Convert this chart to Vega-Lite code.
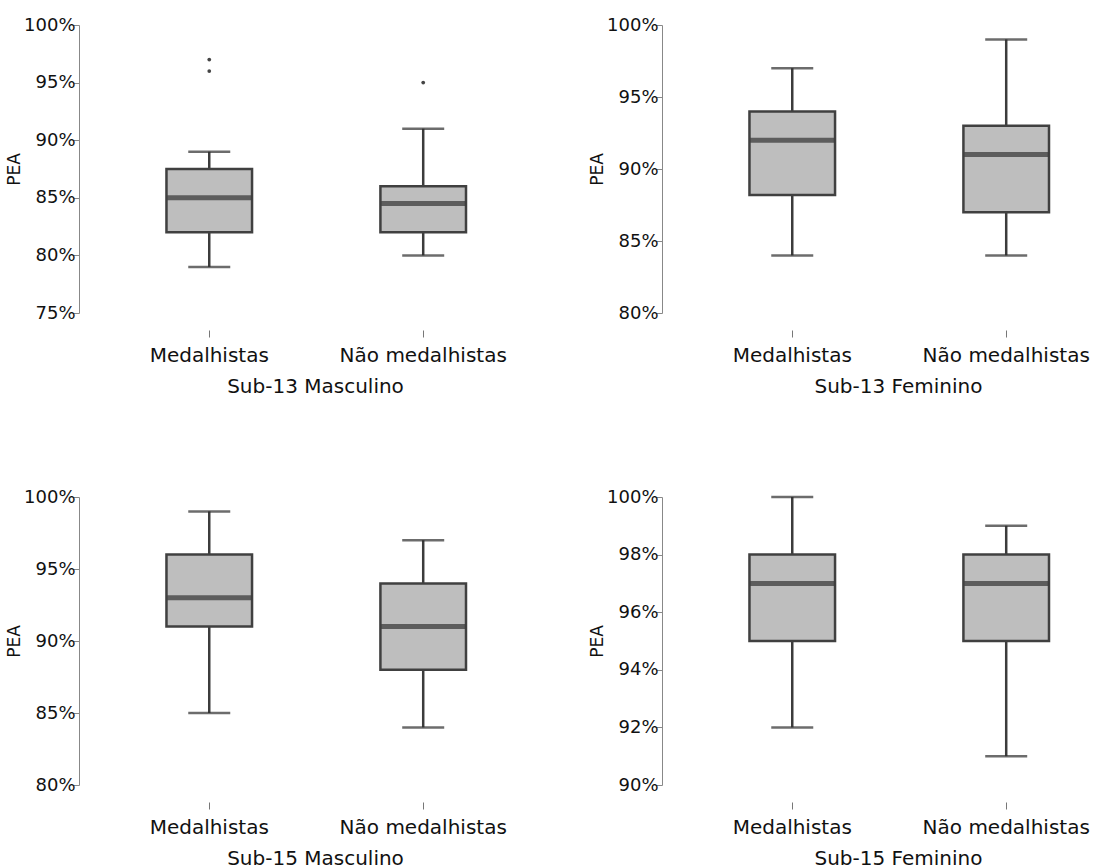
{
  "$schema": "https://vega.github.io/schema/vega-lite/v6.json",
  "padding": {"left": 5, "top": 16, "right": 5, "bottom": 5},
  "background": "white",
  "datasets": {
    "box": [
      {"panel": "Sub-13 Masculino", "group": "Medalhistas", "min": 79, "q1": 82, "med": 85, "q3": 87.5, "max": 89},
      {"panel": "Sub-13 Masculino", "group": "Não medalhistas", "min": 80, "q1": 82, "med": 84.5, "q3": 86, "max": 91},
      {"panel": "Sub-13 Masculino", "group": "Medalhistas", "out": 96},
      {"panel": "Sub-13 Masculino", "group": "Medalhistas", "out": 97},
      {"panel": "Sub-13 Masculino", "group": "Não medalhistas", "out": 95},
      {"panel": "Sub-13 Feminino", "group": "Medalhistas", "min": 84, "q1": 88.2, "med": 92, "q3": 94, "max": 97},
      {"panel": "Sub-13 Feminino", "group": "Não medalhistas", "min": 84, "q1": 87, "med": 91, "q3": 93, "max": 99},
      {"panel": "Sub-15 Masculino", "group": "Medalhistas", "min": 85, "q1": 91, "med": 93, "q3": 96, "max": 99},
      {"panel": "Sub-15 Masculino", "group": "Não medalhistas", "min": 84, "q1": 88, "med": 91, "q3": 94, "max": 97},
      {"panel": "Sub-15 Feminino", "group": "Medalhistas", "min": 92, "q1": 95, "med": 97, "q3": 98, "max": 100},
      {"panel": "Sub-15 Feminino", "group": "Não medalhistas", "min": 91, "q1": 95, "med": 97, "q3": 98, "max": 99}
    ]
  },
  "columns": 2,
  "spacing": {"row": 184, "column": 196},
  "bounds": "flush",
  "concat": [
    {
      "width": 387, "height": 288,
      "data": {"name": "box"},
      "transform": [{"filter": "datum.panel === 'Sub-13 Masculino'"}],
      "encoding": {
        "x": {"field": "group", "type": "nominal", "sort": ["Medalhistas", "Não medalhistas"], "title": "Sub-13 Masculino",
              "scale": {"paddingInner": 0.6, "paddingOuter": 0.2044, "align": 1},
              "axis": {"offset": 17, "titleX": 236}}
      },
      "layer": [
        {"mark": {"type": "rule", "color": "#3c3c3c", "strokeWidth": 2.5},
         "encoding": {"y": {"field": "min", "type": "quantitative", "title": "PEA", "scale": {"domain": [75, 100], "nice": false, "zero": false},
                            "axis": {"values": [75, 80, 85, 90, 95, 100], "labelExpr": "datum.value + '%'"}},
                      "y2": {"field": "max"}}},
        {"mark": {"type": "tick", "size": 42, "thickness": 2.5, "color": "#2e2e2e"},
         "encoding": {"y": {"field": "min", "type": "quantitative", "title": "PEA", "scale": {"domain": [75, 100], "nice": false, "zero": false}}}},
        {"mark": {"type": "tick", "size": 42, "thickness": 2.5, "color": "#2e2e2e"},
         "encoding": {"y": {"field": "max", "type": "quantitative", "title": "PEA", "scale": {"domain": [75, 100], "nice": false, "zero": false}}}},
        {"mark": {"type": "bar", "fill": "#bebebe", "stroke": "#404040", "strokeWidth": 2.5},
         "encoding": {"y": {"field": "q1", "type": "quantitative", "title": "PEA", "scale": {"domain": [75, 100], "nice": false, "zero": false}}, "y2": {"field": "q3"}}},
        {"mark": {"type": "tick", "size": 84, "thickness": 5, "color": "#333333"},
         "encoding": {"y": {"field": "med", "type": "quantitative", "title": "PEA", "scale": {"domain": [75, 100], "nice": false, "zero": false}}}},
        {"mark": {"type": "point", "filled": true, "color": "#444444", "size": 14, "opacity": 1},
         "encoding": {"y": {"field": "out", "type": "quantitative", "title": "PEA", "scale": {"domain": [75, 100], "nice": false, "zero": false}}}}
      ]
    },
    {
      "width": 387, "height": 288,
      "data": {"name": "box"},
      "transform": [{"filter": "datum.panel === 'Sub-13 Feminino'"}],
      "encoding": {
        "x": {"field": "group", "type": "nominal", "sort": ["Medalhistas", "Não medalhistas"], "title": "Sub-13 Feminino",
              "scale": {"paddingInner": 0.6, "paddingOuter": 0.2044, "align": 1},
              "axis": {"offset": 17, "titleX": 236}}
      },
      "layer": [
        {"mark": {"type": "rule", "color": "#3c3c3c", "strokeWidth": 2.5},
         "encoding": {"y": {"field": "min", "type": "quantitative", "title": "PEA", "scale": {"domain": [80, 100], "nice": false, "zero": false},
                            "axis": {"values": [80, 85, 90, 95, 100], "labelExpr": "datum.value + '%'"}},
                      "y2": {"field": "max"}}},
        {"mark": {"type": "tick", "size": 42, "thickness": 2.5, "color": "#2e2e2e"},
         "encoding": {"y": {"field": "min", "type": "quantitative", "title": "PEA", "scale": {"domain": [80, 100], "nice": false, "zero": false}}}},
        {"mark": {"type": "tick", "size": 42, "thickness": 2.5, "color": "#2e2e2e"},
         "encoding": {"y": {"field": "max", "type": "quantitative", "title": "PEA", "scale": {"domain": [80, 100], "nice": false, "zero": false}}}},
        {"mark": {"type": "bar", "fill": "#bebebe", "stroke": "#404040", "strokeWidth": 2.5},
         "encoding": {"y": {"field": "q1", "type": "quantitative", "title": "PEA", "scale": {"domain": [80, 100], "nice": false, "zero": false}}, "y2": {"field": "q3"}}},
        {"mark": {"type": "tick", "size": 84, "thickness": 5, "color": "#333333"},
         "encoding": {"y": {"field": "med", "type": "quantitative", "title": "PEA", "scale": {"domain": [80, 100], "nice": false, "zero": false}}}}
      ]
    },
    {
      "width": 387, "height": 288,
      "data": {"name": "box"},
      "transform": [{"filter": "datum.panel === 'Sub-15 Masculino'"}],
      "encoding": {
        "x": {"field": "group", "type": "nominal", "sort": ["Medalhistas", "Não medalhistas"], "title": "Sub-15 Masculino",
              "scale": {"paddingInner": 0.6, "paddingOuter": 0.2044, "align": 1},
              "axis": {"offset": 17, "titleX": 236}}
      },
      "layer": [
        {"mark": {"type": "rule", "color": "#3c3c3c", "strokeWidth": 2.5},
         "encoding": {"y": {"field": "min", "type": "quantitative", "title": "PEA", "scale": {"domain": [80, 100], "nice": false, "zero": false},
                            "axis": {"values": [80, 85, 90, 95, 100], "labelExpr": "datum.value + '%'"}},
                      "y2": {"field": "max"}}},
        {"mark": {"type": "tick", "size": 42, "thickness": 2.5, "color": "#2e2e2e"},
         "encoding": {"y": {"field": "min", "type": "quantitative", "title": "PEA", "scale": {"domain": [80, 100], "nice": false, "zero": false}}}},
        {"mark": {"type": "tick", "size": 42, "thickness": 2.5, "color": "#2e2e2e"},
         "encoding": {"y": {"field": "max", "type": "quantitative", "title": "PEA", "scale": {"domain": [80, 100], "nice": false, "zero": false}}}},
        {"mark": {"type": "bar", "fill": "#bebebe", "stroke": "#404040", "strokeWidth": 2.5},
         "encoding": {"y": {"field": "q1", "type": "quantitative", "title": "PEA", "scale": {"domain": [80, 100], "nice": false, "zero": false}}, "y2": {"field": "q3"}}},
        {"mark": {"type": "tick", "size": 84, "thickness": 5, "color": "#333333"},
         "encoding": {"y": {"field": "med", "type": "quantitative", "title": "PEA", "scale": {"domain": [80, 100], "nice": false, "zero": false}}}}
      ]
    },
    {
      "width": 387, "height": 288,
      "data": {"name": "box"},
      "transform": [{"filter": "datum.panel === 'Sub-15 Feminino'"}],
      "encoding": {
        "x": {"field": "group", "type": "nominal", "sort": ["Medalhistas", "Não medalhistas"], "title": "Sub-15 Feminino",
              "scale": {"paddingInner": 0.6, "paddingOuter": 0.2044, "align": 1},
              "axis": {"offset": 17, "titleX": 236}}
      },
      "layer": [
        {"mark": {"type": "rule", "color": "#3c3c3c", "strokeWidth": 2.5},
         "encoding": {"y": {"field": "min", "type": "quantitative", "title": "PEA", "scale": {"domain": [90, 100], "nice": false, "zero": false},
                            "axis": {"values": [90, 92, 94, 96, 98, 100], "labelExpr": "datum.value + '%'"}},
                      "y2": {"field": "max"}}},
        {"mark": {"type": "tick", "size": 42, "thickness": 2.5, "color": "#2e2e2e"},
         "encoding": {"y": {"field": "min", "type": "quantitative", "title": "PEA", "scale": {"domain": [90, 100], "nice": false, "zero": false}}}},
        {"mark": {"type": "tick", "size": 42, "thickness": 2.5, "color": "#2e2e2e"},
         "encoding": {"y": {"field": "max", "type": "quantitative", "title": "PEA", "scale": {"domain": [90, 100], "nice": false, "zero": false}}}},
        {"mark": {"type": "bar", "fill": "#bebebe", "stroke": "#404040", "strokeWidth": 2.5},
         "encoding": {"y": {"field": "q1", "type": "quantitative", "title": "PEA", "scale": {"domain": [90, 100], "nice": false, "zero": false}}, "y2": {"field": "q3"}}},
        {"mark": {"type": "tick", "size": 84, "thickness": 5, "color": "#333333"},
         "encoding": {"y": {"field": "med", "type": "quantitative", "title": "PEA", "scale": {"domain": [90, 100], "nice": false, "zero": false}}}}
      ]
    }
  ],
  "config": {
    "view": {"stroke": null},
    "axis": {"labelFont": "DejaVu Sans", "titleFont": "DejaVu Sans", "labelColor": "#111111", "titleColor": "#111111", "grid": false, "titleFontWeight": "normal"},
    "axisY": {"labelFontSize": 18, "titleFontSize": 17, "domainColor": "#888888", "tickColor": "#888888", "tickSize": 6, "labelPadding": -2, "titlePadding": 0},
    "axisX": {"labelFontSize": 20, "titleFontSize": 20, "domain": false, "tickColor": "#777777", "tickSize": 7, "labelAngle": 0, "labelPadding": 8, "titlePadding": 11}
  }
}
